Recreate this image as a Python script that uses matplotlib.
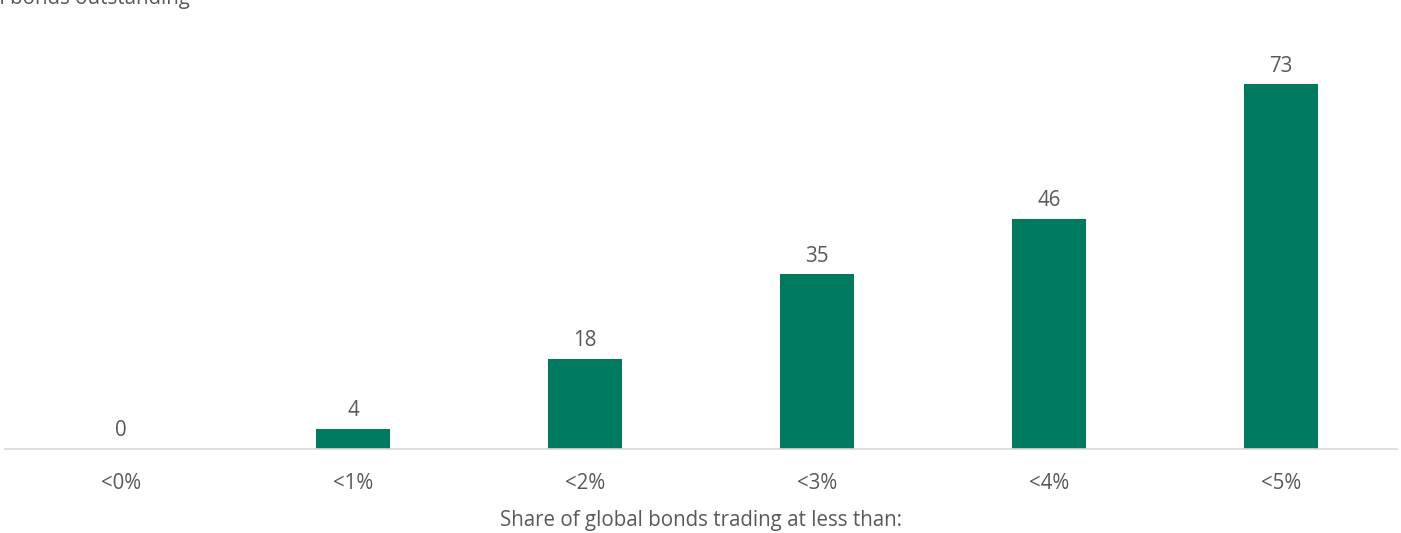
import matplotlib
matplotlib.use('Agg')
import matplotlib.pyplot as plt
import numpy as np

# Dati
categories = ['<0%', '<1%', '<2%', '<3%', '<4%', '<5%']
shares = [0, 4, 18, 35, 46, 73]

bar_color = '#007A5E'
text_color = '#595959'

plt.rcParams['font.family'] = ['Open Sans', 'DejaVu Sans']

fig = plt.figure(figsize=(14.01, 5.33), dpi=100)
ax = fig.add_axes([5 / 1401, 84 / 533, 1392 / 1401, 400 / 533])

x = np.arange(len(categories))
bars = ax.bar(x, shares, width=0.315, color=bar_color)

# Etichette sopra le barre
for xi, v in zip(x, shares):
    ax.text(xi, v + 1.5, str(v), ha='center', va='bottom',
            fontsize=14.8, color=text_color)

ax.set_xlim(-0.5, len(categories) - 0.5)
ax.set_ylim(0, 80)
ax.set_xticks(x)
ax.set_xticklabels(categories, fontsize=14.8, color=text_color)
ax.tick_params(axis='x', length=0, pad=17)
ax.set_yticks([])

for s in ['top', 'right', 'left']:
    ax.spines[s].set_visible(False)
ax.spines['bottom'].set_color('#D9D9D9')
ax.spines['bottom'].set_linewidth(1.2)

ax.set_xlabel('Share of global bonds trading at less than:', fontsize=14.8,
              color=text_color, labelpad=12)

# Titolo dell'asse y, tagliato dal bordo superiore come nell'originale
fig.text(190 / 1401, 1 - 4 / 533, '% of global bonds outstanding', ha='right',
         va='baseline', fontsize=14.8, color=text_color)

fig.savefig('out.png', dpi=100)
